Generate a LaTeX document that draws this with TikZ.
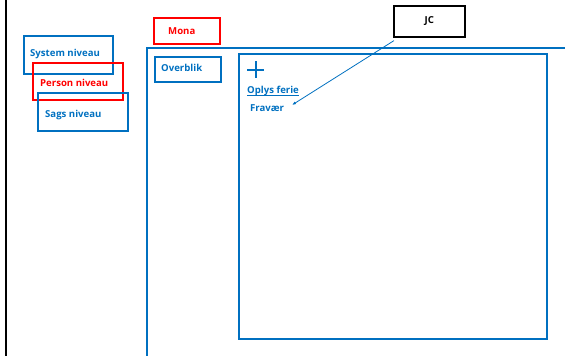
\documentclass[tikz,border=0pt]{standalone}
\usepackage{fontspec}
\setmainfont{Open Sans}
\usetikzlibrary{arrows.meta}
\definecolor{mblue}{RGB}{0,112,192}
\definecolor{mred}{RGB}{255,0,0}
\tikzset{
  txt/.style={font=\bfseries\fontsize{9.6}{11}\selectfont, inner sep=0pt},
  bbox/.style={draw=mblue, line width=1.6pt, inner sep=0pt, anchor=north west},
  rbox/.style={draw=mred, line width=1.6pt, inner sep=0pt, anchor=north west},
  kbox/.style={draw=black, line width=1.6pt, inner sep=0pt, anchor=north west},
  lbl/.style={txt, text=mblue},
  rlbl/.style={txt, text=mred}
}
\begin{document}
\begin{tikzpicture}[x=1pt,y=-1pt]
\useasboundingbox (0,0) rectangle (565,356);
% left black line
\draw[line width=2pt] (6,0) -- (6,356);
% outer frame
\draw[mblue, line width=1.8pt] (147,356) -- (147,48) -- (565,48);
% left boxes
\node[bbox, minimum width=89pt, minimum height=38pt] (sys) at (23,35) {};
\node[lbl, anchor=west] (syst) at (30,54) {System niveau};
\node[rbox, minimum width=90pt, minimum height=37pt] (per) at (32,62) {};
\node[rlbl, anchor=west] (pert) at (40,83) {Person niveau};
\node[bbox, minimum width=90pt, minimum height=38pt] (sag) at (37,92) {};
\node[lbl, anchor=west] (sagt) at (45,115) {Sags niveau};
\node[rbox, minimum width=66pt, minimum height=26pt] (mona) at (153,17) {};
\node[rlbl, anchor=west] (monat) at (168,31) {Mona};
\node[bbox, minimum width=66pt, minimum height=25pt] (over) at (154,56) {};
\node[lbl, anchor=west] (overt) at (161,68) {Overblik};
% inner box
\node[bbox, line width=1.8pt, minimum width=308pt, minimum height=285pt] (inner) at (238,53) {};
% plus
\draw[mblue, line width=2pt] (247,69.5) -- (264,69.5) (255.5,61) -- (255.5,78);
\node[lbl, anchor=west] (oplys) at (247,91) {Oplys ferie};
\draw[mblue, line width=0.9pt] ([yshift=-1.5pt]oplys.base west) -- ([yshift=-1.5pt]oplys.base east);
\node[lbl, anchor=west] (frav) at (250,108) {Fravær};
% JC
\node[kbox, minimum width=71pt, minimum height=31pt, txt] (jc) at (393,5) {JC};
\coordinate (tip) at (292,105);
\draw[mblue, line width=0.8pt, -{Latex[length=4pt,width=3pt]}] (jc.south west) ++(1,3) -- (tip);
\end{tikzpicture}
\end{document}
